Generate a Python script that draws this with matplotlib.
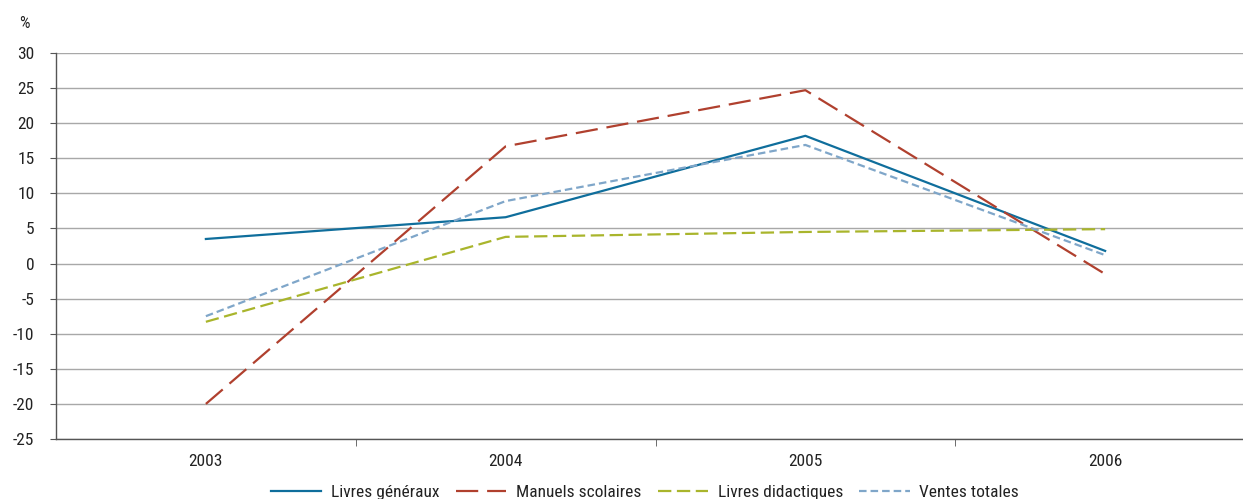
import matplotlib
matplotlib.use("Agg")
import matplotlib.pyplot as plt

years = ["2003", "2004", "2005", "2006"]
livres_generaux = [3.5, 6.6, 18.2, 1.8]
manuels_scolaires = [-20.0, 16.7, 24.7, -1.5]
livres_didactiques = [-8.3, 3.8, 4.5, 4.9]
ventes_totales = [-7.5, 8.9, 16.9, 1.2]
series_names = ["Livres généraux", "Manuels scolaires", "Livres didactiques", "Ventes totales"]
yticks = list(range(-25, 31, 5))

plt.rcParams['font.family'] = ['Roboto Condensed', 'DejaVu Sans']

W, H = 1243, 499
fig = plt.figure(figsize=(W / 100, H / 100), dpi=100)
left, right = 56 / W, 1255 / W
top, bottom = 53 / H, 439 / H
ax = fig.add_axes([left, 1 - bottom, right - left, bottom - top])

x = list(range(len(years)))
ax.plot(x, livres_generaux, color="#0f6e9c", lw=1.6, label=series_names[0])
ax.plot(x, manuels_scolaires, color="#b0402e", lw=1.6, dashes=(10, 4), label=series_names[1])
ax.plot(x, livres_didactiques, color="#a9b52c", lw=1.6, dashes=(6, 2.5), label=series_names[2])
ax.plot(x, ventes_totales, color="#7fa6c9", lw=1.6, dashes=(3.4, 1.8), label=series_names[3])

ax.set_ylim(-25, 30)
ax.set_xlim(-0.5, 3.5)
ax.set_yticks(yticks)
ax.set_yticklabels([str(v) for v in yticks], fontsize=12.5, color="#222222")
ax.set_xticks(x)
ax.set_xticklabels(years, fontsize=12.5, color="#222222")
ax.set_xticks([0.5, 1.5, 2.5], minor=True)
ax.tick_params(axis='x', which='major', length=0, pad=11)
ax.tick_params(axis='x', which='minor', length=5, color="#555555")
ax.tick_params(axis='y', length=4.5, color="#555555", pad=11)
ax.grid(axis='y', color="#a8a8a8", lw=1.0)
ax.set_axisbelow(True)
for s in ["top", "right"]:
    ax.spines[s].set_visible(False)
for s in ["left", "bottom"]:
    ax.spines[s].set_color("#555555")
    ax.spines[s].set_linewidth(1.0)

fig.text(19 / W, 1 - 23 / H, "%", fontsize=12, color="#222222", ha="left", va="center")

leg = fig.legend(loc="lower center", bbox_to_anchor=(645 / W, -0.005), ncol=4,
                 frameon=False, fontsize=12.5, handlelength=2.9, columnspacing=0.95,
                 handletextpad=0.55, borderaxespad=0.0, borderpad=0.1)
for t in leg.get_texts():
    t.set_color("#222222")

fig.savefig("out.png", dpi=100)
